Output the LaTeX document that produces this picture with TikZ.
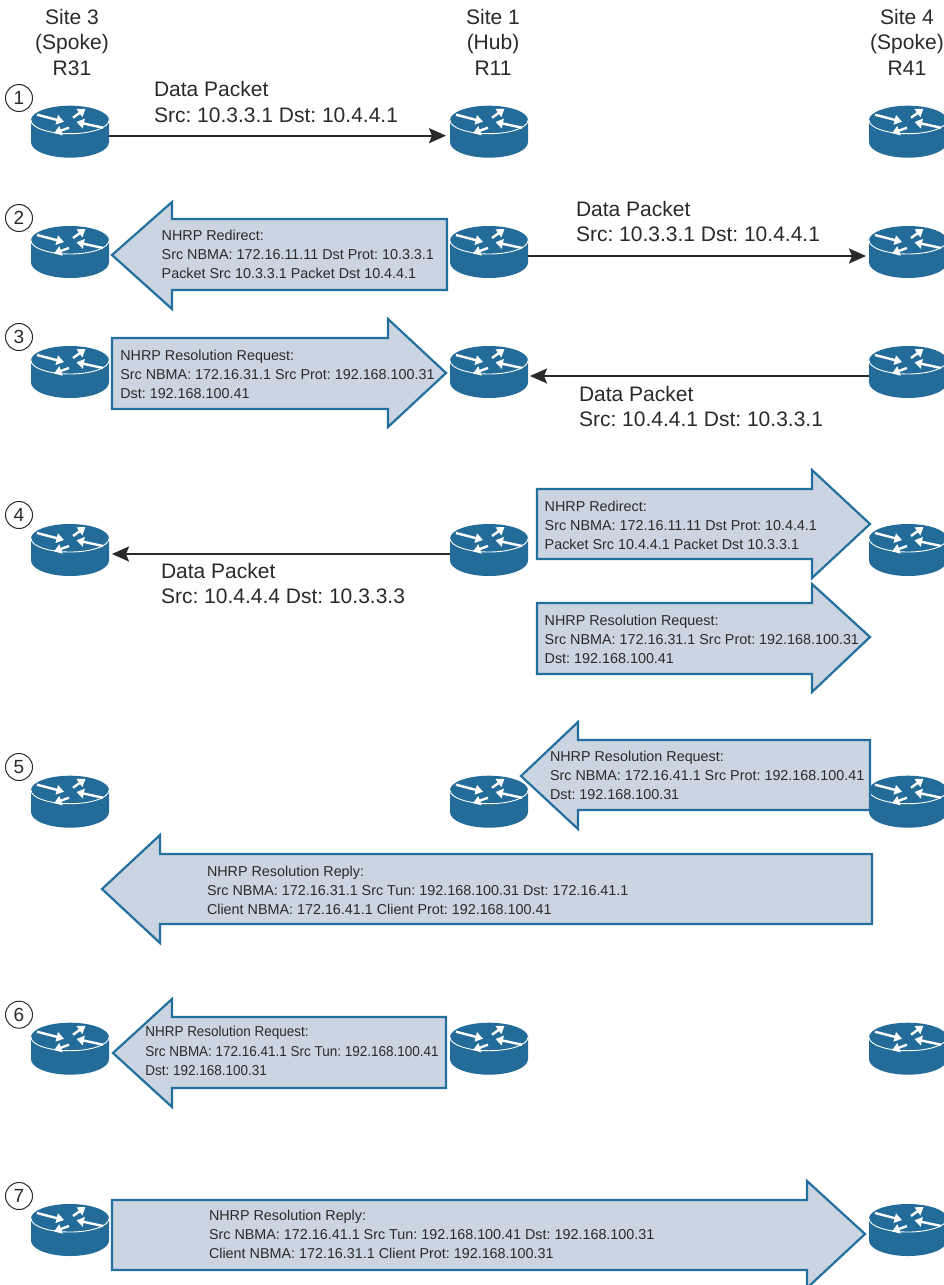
\documentclass[tikz,border=0pt]{standalone}
\usepackage{fontspec}
\setmainfont{Liberation Sans}
\newfontfamily\narrowsans[FakeStretch=0.94]{Liberation Sans}
\usetikzlibrary{arrows.meta}
\definecolor{ciscoblue}{HTML}{236B98}
\definecolor{flowfill}{HTML}{CBD4E1}
\definecolor{flowline}{HTML}{236F9E}
\definecolor{inkdark}{HTML}{2A2A2A}
\tikzset{
  routerbox/.style={minimum width=78pt,minimum height=52pt,inner sep=0pt,outer sep=0pt},
  rarrow/.style={white,line width=2.4pt,-{Triangle[length=7.5pt,width=9.5pt]}},
  flowshape/.style={draw=flowline,fill=flowfill,line width=2.2pt,miter limit=10},
  biglabel/.style={anchor=base west,inner sep=0pt,outer sep=0pt,align=left,text=inkdark,font=\fontsize{21}{25.3}\selectfont\frenchspacing},
  smalllabel/.style={anchor=base west,inner sep=0pt,outer sep=0pt,align=left,text=inkdark,font=\fontsize{14.35}{19.1}\selectfont\frenchspacing},
  narrowlabel/.style={smalllabel,font=\narrowsans\fontsize{14.35}{19.5}\selectfont\frenchspacing},
  sitelabel/.style={anchor=north,inner sep=0pt,outer sep=0pt,align=center,text=inkdark,font=\fontsize{21}{25.5}\selectfont},
  stepnum/.style={circle,draw=inkdark,line width=1pt,minimum size=27pt,inner sep=0pt,text=inkdark,font=\fontsize{19}{19}\selectfont},
  dataline/.style={draw=inkdark,line width=2.3pt,-{Stealth[length=17pt,width=15pt,inset=3pt]}}
}
% name, x centre, y of top
\newcommand{\routericon}[3]{%
  \node[routerbox] (#1) at (#2,#3+26) {};
  \begin{scope}[shift={(#2,#3+14.5)}]
    \fill[ciscoblue] (-39,0) -- (-39,22) arc[start angle=180,end angle=0,x radius=39,y radius=15.5] -- (39,0) -- cycle;
    \fill[ciscoblue] (0,0) ellipse[x radius=39,y radius=14.5];
    \draw[white,line width=0.9pt] (-39,0) arc[start angle=180,end angle=0,x radius=39,y radius=13.5];
    \draw[rarrow] (-33,-5.5) -- (-6,1.5);
    \draw[rarrow] (3,-2.5) -- (15.5,-11.5);
    \draw[rarrow] (33,7.5) -- (6.5,1.8);
    \draw[rarrow] (-1,7.5) -- (-16,13);
  \end{scope}}
% tipx tipy basex headtop bodytop endx bodybot headbot
\newcommand{\flowarrow}[8]{%
  \draw[flowshape] (#1,#2) -- (#3,#4) -- (#3,#5) -- (#6,#5) -- (#6,#7) -- (#3,#7) -- (#3,#8) -- cycle;}
\begin{document}
\begin{tikzpicture}[x=1pt,y=-1pt]
\useasboundingbox (0,0) rectangle (944,1285);
\fill[white] (0,0) rectangle (944,1285);

% routers
\routericon{aa}{70}{105.7}\routericon{ab}{489}{105.7}\routericon{ac}{908}{105.7}
\routericon{ba}{70}{226}\routericon{bb}{489}{226}\routericon{bc}{908}{226}
\routericon{ca}{70}{346}\routericon{cb}{489}{346}\routericon{cc}{908}{346}
\routericon{da}{70}{524}\routericon{db}{489}{524}\routericon{dc}{908}{524}
\routericon{ea}{70}{775.7}\routericon{eb}{489}{775.7}\routericon{ec}{908}{775.7}
\routericon{fa}{70}{1022.7}\routericon{fb}{489}{1022.7}\routericon{fc}{908}{1022.7}
\routericon{ga}{70}{1204}\routericon{gb}{489}{1204}\routericon{gc}{908}{1204}

% site headers
\node[sitelabel] (s3) at (72,9) {Site 3\\(Spoke)\\R31};
\node[sitelabel] (s1) at (493,9) {Site 1\\(Hub)\\R11};
\node[sitelabel] (s4) at (907,9) {Site 4\\(Spoke)\\R41};

% step numbers
\node[stepnum] (n1) at (19,98) {1};
\node[stepnum] (n2) at (19,218) {2};
\node[stepnum] (n3) at (19,337) {3};
\node[stepnum] (n4) at (19,515) {4};
\node[stepnum] (n5) at (19,767) {5};
\node[stepnum] (n6) at (19,1014.7) {6};
\node[stepnum] (n7) at (19,1196) {7};

% data-packet connectors
\draw[dataline,shorten >=4pt] ([yshift=-4pt]aa.east) -- ([yshift=-4pt]ab.west);
\draw[dataline,shorten >=3pt] ([yshift=-4pt]bb.east) -- ([yshift=-4pt]bc.west);
\draw[dataline,shorten >=2pt] ([yshift=-4pt]cc.west) -- ([yshift=-4pt]cb.east);
\draw[dataline,shorten >=3pt] ([yshift=-4pt]db.west) -- ([yshift=-4pt]da.east);

\node[biglabel] (d1) at (154,122) {Data Packet\\Src: 10.3.3.1 Dst: 10.4.4.1};
\node[biglabel] (d2) at (576,241.8) {Data Packet\\Src: 10.3.3.1 Dst: 10.4.4.1};
\node[biglabel] (d3) at (579,426.8) {Data Packet\\Src: 10.4.4.1 Dst: 10.3.3.1};
\node[biglabel] (d4) at (161,603.8) {Data Packet\\Src: 10.4.4.4 Dst: 10.3.3.3};

% NHRP block arrows
\flowarrow{112}{255}{172}{202}{219}{447}{290}{309}
\flowarrow{446}{373}{388}{319}{338}{112}{409}{427}
\flowarrow{870}{524}{812}{470}{489}{537}{559}{578}
\flowarrow{870}{637}{812}{584}{603}{537}{674}{692}
\flowarrow{521}{776}{578}{722}{740}{870}{810}{829}
\flowarrow{102}{889}{160}{835}{854}{872}{924}{943}
\flowarrow{113}{1053}{172}{999}{1017}{446}{1088}{1107}
\flowarrow{865}{1234}{807}{1181}{1200}{112}{1270}{1288}

\node[smalllabel] (t2) at (161.7,278.2) {NHRP Redirect:\\Src NBMA: 172.16.11.11 Dst Prot: 10.3.3.1\\Packet Src 10.3.3.1 Packet Dst 10.4.4.1};
\node[smalllabel] (t3) at (120.3,398.2) {NHRP Resolution Request:\\Src NBMA: 172.16.31.1 Src Prot: 192.168.100.31\\Dst: 192.168.100.41};
\node[smalllabel] (t4a) at (544.7,549.2) {NHRP Redirect:\\Src NBMA: 172.16.11.11 Dst Prot: 10.4.4.1\\Packet Src 10.4.4.1 Packet Dst 10.3.3.1};
\node[smalllabel] (t4b) at (544.7,663.2) {NHRP Resolution Request:\\Src NBMA: 172.16.31.1 Src Prot: 192.168.100.31\\Dst: 192.168.100.41};
\node[smalllabel] (t5a) at (550,799.9) {NHRP Resolution Request:\\Src NBMA: 172.16.41.1 Src Prot: 192.168.100.41\\Dst: 192.168.100.31};
\node[smalllabel] (t5b) at (207,914.2) {NHRP Resolution Reply:\\Src NBMA: 172.16.31.1 Src Tun: 192.168.100.31 Dst: 172.16.41.1\\Client NBMA: 172.16.41.1 Client Prot: 192.168.100.41};
\node[narrowlabel] (t6) at (145.3,1075.7) {NHRP Resolution Request:\\Src NBMA: 172.16.41.1 Src Tun: 192.168.100.41\\Dst: 192.168.100.31};
\node[smalllabel] (t7) at (209,1258.9) {NHRP Resolution Reply:\\Src NBMA: 172.16.41.1 Src Tun: 192.168.100.41 Dst: 192.168.100.31\\Client NBMA: 172.16.31.1 Client Prot: 192.168.100.31};
\end{tikzpicture}
\end{document}
